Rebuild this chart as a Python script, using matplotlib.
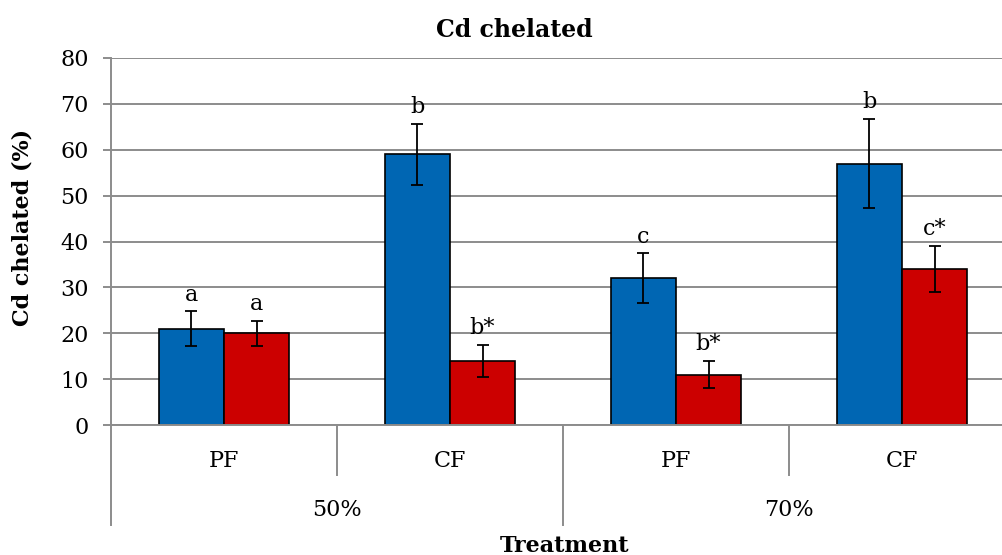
import matplotlib.pyplot as plt
import matplotlib.transforms as mtransforms
import numpy as np

plt.rcParams['font.family'] = ['DejaVu Serif']

# data
categories = ['PF', 'CF', 'PF', 'CF']
groups = ['50%', '70%']
blue_vals = [21, 59, 32, 57]
blue_err = [3.8, 6.7, 5.4, 9.8]
red_vals = [20, 14, 11, 34]
red_err = [2.7, 3.5, 3.0, 5.1]
blue_letters = ['a', 'b', 'c', 'b']
red_letters = ['a', 'b*', 'b*', 'c*']

W, H = 1003, 555
fig = plt.figure(figsize=(W / 100, H / 100), dpi=100)
# axes runs a bit past the right edge, like the original crop
ax = fig.add_axes([111 / W, (H - 425) / H, 904 / W, 367 / H])

x = np.arange(len(categories))
bw = 0.288
grey = '#8c8c8c'
fs = 16

ax.set_axisbelow(True)
ax.yaxis.grid(True, color=grey, linewidth=1.4)
ax.bar(x - bw / 2, blue_vals, bw, color='#0066b3', edgecolor='black', linewidth=1.2)
ax.bar(x + bw / 2, red_vals, bw, color='#cc0000', edgecolor='black', linewidth=1.2)
ax.errorbar(x - bw / 2, blue_vals, yerr=blue_err, fmt='none', ecolor='black',
            elinewidth=1.3, capsize=4.5, capthick=1.3)
ax.errorbar(x + bw / 2, red_vals, yerr=red_err, fmt='none', ecolor='black',
            elinewidth=1.3, capsize=4.5, capthick=1.3)

for i in range(len(categories)):
    ax.annotate(blue_letters[i], (x[i] - bw / 2, blue_vals[i] + blue_err[i]),
                xytext=(0, 4), textcoords='offset points', ha='center', va='bottom',
                fontsize=fs)
    ax.annotate(red_letters[i], (x[i] + bw / 2, red_vals[i] + red_err[i]),
                xytext=(0, 4), textcoords='offset points', ha='center', va='bottom',
                fontsize=fs)

ax.set_xlim(-0.5, 3.5)
ax.set_ylim(0, 80)
ax.set_yticks(np.arange(0, 81, 10))
ax.tick_params(axis='y', length=6, width=1.4, color=grey, labelsize=fs, pad=10)

for s in ['top', 'right']:
    ax.spines[s].set_visible(False)
for s in ['left', 'bottom']:
    ax.spines[s].set_color(grey)
    ax.spines[s].set_linewidth(1.4)

# category labels
ax.set_xticks(x)
ax.set_xticklabels(categories, fontsize=fs)
ax.tick_params(axis='x', length=0, pad=18)

# separators: short between PF/CF, tall between groups
trans = mtransforms.blended_transform_factory(ax.transData, ax.transAxes)
short_b = [0.5, 2.5]
tall_b = [-0.5, 1.5, 3.5]
px = 1 / 367
for b in short_b:
    ax.plot([b, b], [0, -50 * px], transform=trans, color=grey, lw=1.4, clip_on=False)
for b in tall_b:
    ax.plot([b, b], [0, -100 * px], transform=trans, color=grey, lw=1.4, clip_on=False)
for gi, g in enumerate(groups):
    ax.text(gi * 2 + 0.5, -85 * px, g, transform=trans, ha='center', va='center', fontsize=fs)

fig.text(514 / W, 1 - 30 / H, 'Cd chelated', ha='center', va='center',
         fontsize=17, fontweight='bold')
fig.text(23 / W, 1 - 227 / H, 'Cd chelated (%)', ha='center', va='center',
         rotation=90, fontsize=fs, fontweight='bold')
fig.text(565 / W, 1 - 546 / H, 'Treatment', ha='center', va='center',
         fontsize=fs, fontweight='bold')

fig.savefig('out.png', dpi=100)
